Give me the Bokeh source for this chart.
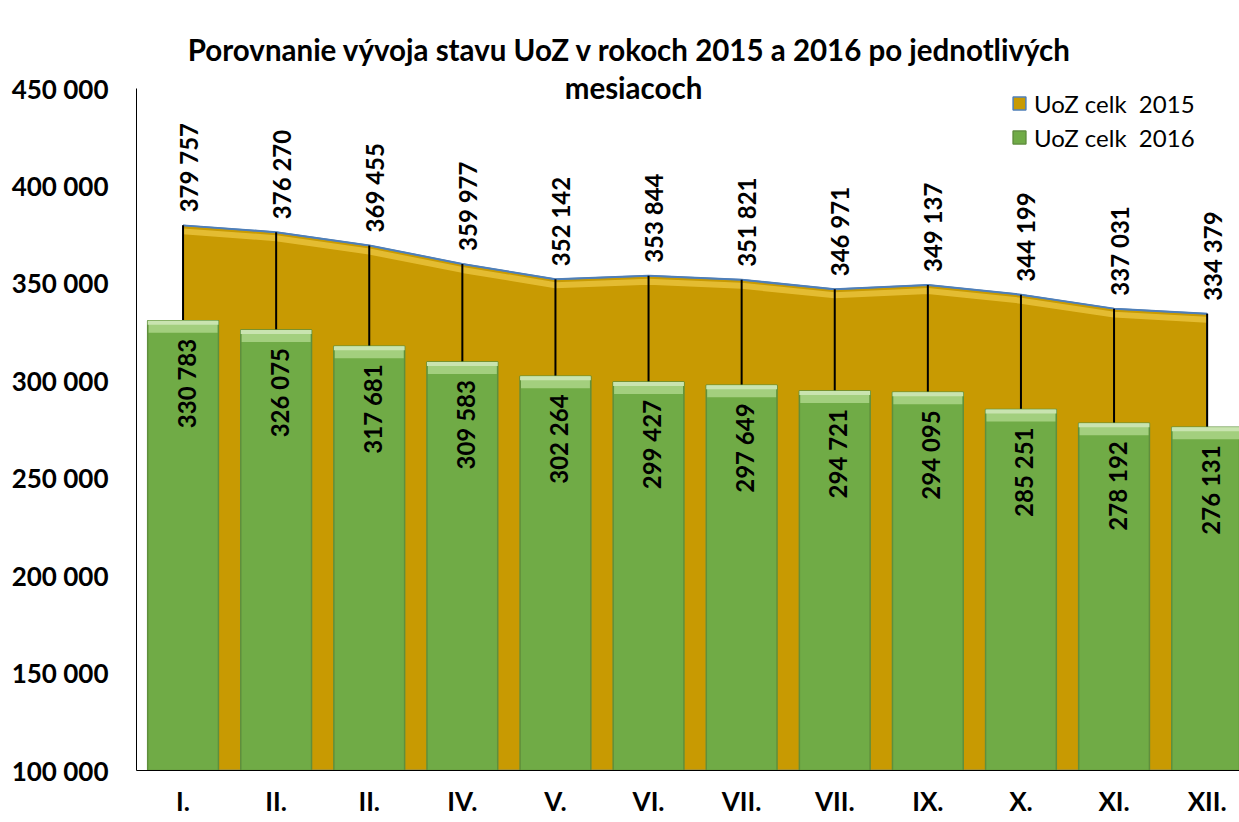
import math
from bokeh.plotting import figure
from bokeh.models import Range1d, FixedTicker, Legend, LegendItem, Label, ColumnDataSource
from bokeh.core.properties import value
from bokeh.embed import file_html
from bokeh.resources import INLINE

months = ["I.", "II.", "II.", "IV.", "V.", "VI.", "VII.", "VII.", "IX.", "X.", "XI.", "XII."]
uoz_2015 = [379757, 376270, 369455, 359977, 352142, 353844, 351821, 346971, 349137, 344199, 337031, 334379]
uoz_2016 = [330783, 326075, 317681, 309583, 302264, 299427, 297649, 294721, 294095, 285251, 278192, 276131]
y_ticks = [100000, 150000, 200000, 250000, 300000, 350000, 400000, 450000]
title_1 = "Porovnanie vývoja stavu UoZ v rokoch 2015 a 2016  po jednotlivých"
title_2 = "mesiacoch"
series_names = ["UoZ celk  2015", "UoZ celk  2016"]

FONT = "Lato"
BASE = y_ticks[0]
W, H = 1239, 822
TOP, BOTTOM, LEFT = 0, 52, 136
frame_h = H - TOP - BOTTOM
frame_w = W - LEFT
axis_px = 682  # pixel height of the 100 000 .. 450 000 span
units_per_px = (y_ticks[-1] - y_ticks[0]) / axis_px
y_end = BASE + frame_h * units_per_px
cat_px = 93.1
x_end = 0.5 + frame_w / cat_px


def fmt(v):
    return f"{v:,}".replace(",", " ")


xs = list(range(1, len(months) + 1))
src = ColumnDataSource(dict(
    x=xs,
    v15=uoz_2015,
    v16=uoz_2016,
    base=[BASE] * len(xs),
    l15=[fmt(v) for v in uoz_2015],
    l16=[fmt(v) for v in uoz_2016],
))

p = figure(width=W, height=H, output_backend="svg", toolbar_location=None,
           x_range=Range1d(0.5, x_end), y_range=Range1d(BASE, y_end),
           min_border_left=LEFT, min_border_right=0, min_border_top=TOP, min_border_bottom=BOTTOM)
p.background_fill_color = "white"
p.border_fill_color = "white"
p.outline_line_color = None
p.xgrid.visible = False
p.ygrid.visible = False

# 2015 area
area_x = [xs[0]] + xs + [xs[-1]]
area_y = [BASE] + uoz_2015 + [BASE]
area = p.patch(area_x, area_y, fill_color="#C89A02", line_color="#4F7FB8", line_width=1.5)
hl = [v - 6 * units_per_px for v in uoz_2015]
p.line(xs, hl, line_color="#E9C23A", line_width=6, line_alpha=0.85)
p.line(xs, uoz_2015, line_color="#4F7FB8", line_width=2)

# drop lines
p.segment(x0="x", y0="v15", x1="x", y1="base", source=src, line_color="black", line_width=2)

# 2016 bars
bars = p.vbar(x="x", top="v16", bottom="base", width=0.76, source=src,
              fill_color="#70AB46", line_color="#5F8F3C", line_width=1.5)
p.vbar(x=xs, top=uoz_2016, bottom=[v - 12 * units_per_px for v in uoz_2016], width=0.74,
       fill_color="#A3CF7E", line_color=None)
p.vbar(x=xs, top=uoz_2016, bottom=[v - 4 * units_per_px for v in uoz_2016], width=0.76,
       fill_color="#C9E4B0", line_color=None)

# labels
p.text(x="x", y="v15", text="l15", source=src, angle=math.pi / 2,
       text_align="left", text_baseline="middle", x_offset=5, y_offset=-13,
       text_font=value(FONT), text_font_style="bold", text_font_size="24px", text_color="black")
p.text(x="x", y="v16", text="l16", source=src, angle=math.pi / 2,
       text_align="right", text_baseline="middle", x_offset=3, y_offset=18,
       text_font=value(FONT), text_font_style="bold", text_font_size="24px", text_color="black")

# axes
p.xaxis.ticker = FixedTicker(ticks=xs)
p.xaxis.major_label_overrides = {x: m for x, m in zip(xs, months)}
p.yaxis.ticker = FixedTicker(ticks=y_ticks)
p.yaxis.major_label_overrides = {v: fmt(v) for v in y_ticks}
p.yaxis.bounds = (y_ticks[0], y_ticks[-1])
for ax in (p.xaxis[0], p.yaxis[0]):
    ax.axis_line_color = "black"
    ax.axis_line_width = 1
    ax.major_tick_line_color = None
    ax.minor_tick_line_color = None
    ax.major_tick_out = 0
    ax.major_tick_in = 0
    ax.minor_tick_out = 0
    ax.minor_tick_in = 0
    ax.major_label_text_font = FONT
    ax.major_label_text_font_style = "bold"
    ax.major_label_text_font_size = "26px"
    ax.major_label_text_color = "black"
p.yaxis.major_label_standoff = 28
p.xaxis.major_label_standoff = 14

# title (two lines)
p.add_layout(Label(x=497, y=frame_h - 49, x_units="screen", y_units="screen", text=title_1,
                   text_align="center", text_baseline="alphabetic",
                   text_font=FONT, text_font_style="bold", text_font_size="29.5px", text_color="black"))
p.add_layout(Label(x=497, y=frame_h - 87, x_units="screen", y_units="screen", text=title_2,
                   text_align="center", text_baseline="alphabetic",
                   text_font=FONT, text_font_style="bold", text_font_size="29.5px", text_color="black"))

# legend
legend = Legend(items=[LegendItem(label=series_names[0], renderers=[area]),
                       LegendItem(label=series_names[1], renderers=[bars])],
                location=(875, frame_h - 152), glyph_width=16, glyph_height=16, label_standoff=7,
                label_text_font=FONT, label_text_font_size="24px", label_text_color="black",
                label_height=30, padding=0, spacing=4, margin=0,
                border_line_color=None, background_fill_alpha=0)
p.add_layout(legend, "center")

open("out.html", "w").write(file_html(p, INLINE))
